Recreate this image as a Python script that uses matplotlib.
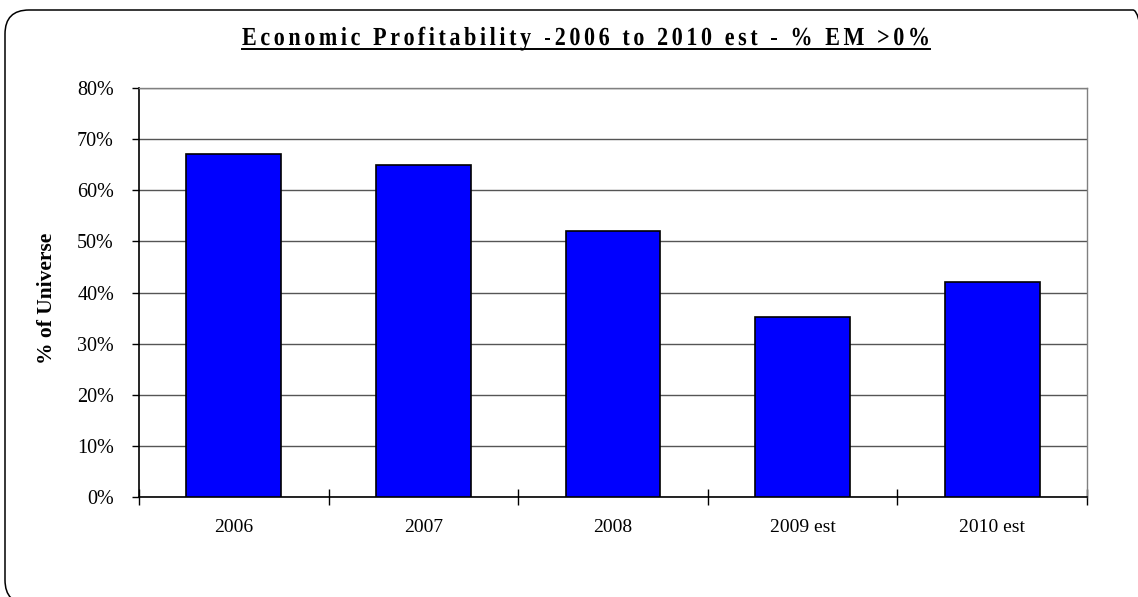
import matplotlib
matplotlib.use('Agg')
import matplotlib.pyplot as plt
from matplotlib.patches import FancyBboxPatch, PathPatch
from matplotlib.lines import Line2D
from matplotlib.transforms import IdentityTransform, Affine2D
from matplotlib.font_manager import FontProperties
from matplotlib.textpath import TextPath, TextToPath
import numpy as np

categories = ['2006', '2007', '2008', '2009 est', '2010 est']
values = [0.670, 0.649, 0.521, 0.353, 0.421]
yticks = [0.0, 0.1, 0.2, 0.3, 0.4, 0.5, 0.6, 0.7, 0.8]
title = 'Economic Profitability -2006 to 2010 est - % EM >0%'
ylabel = '% of Universe'

plt.rcParams['font.family'] = ['Liberation Serif', 'DejaVu Serif']

W, H = 1138, 597
fig = plt.figure(figsize=(W / 100, H / 100), dpi=100)
ax = fig.add_axes([139 / W, (H - 497) / H, (1087 - 139) / W, (497 - 88) / H])

x = np.arange(len(categories))
ax.bar(x, values, width=0.5, color='#0000FF', edgecolor='black', linewidth=1.2, zorder=3)

ax.set_xlim(-0.5, len(categories) - 0.5)
ax.set_ylim(0, 0.8)
ax.set_yticks(yticks)
ax.set_yticklabels(['{:d}%'.format(int(round(v * 100))) for v in yticks], fontsize=14.5)
ax.yaxis.grid(True, color='#555555', linewidth=1, zorder=0)
ax.set_axisbelow(True)

# category boundaries as major ticks, labels on minor ticks
ax.set_xticks(np.arange(-0.5, len(categories), 1.0))
ax.set_xticklabels([])
ax.set_xticks(x, minor=True)
ax.set_xticklabels(categories, minor=True, fontsize=14)
ax.tick_params(axis='x', which='major', direction='inout', length=11, width=1, color='black')
ax.tick_params(axis='x', which='minor', length=0, pad=16)
ax.tick_params(axis='y', direction='out', length=5, width=1, pad=13)

for s in ['left', 'bottom']:
    ax.spines[s].set_color('black')
    ax.spines[s].set_linewidth(1.2)
for s in ['right', 'top']:
    ax.spines[s].set_color('#808080')
    ax.spines[s].set_linewidth(1)

ax.set_ylabel(ylabel, fontsize=15.5, fontweight='bold')
ax.yaxis.set_label_coords(57 / W, 0.5, transform=fig.transFigure)

# rounded frame around the whole chart
frame = FancyBboxPatch((5, H - 604), 1152, 594,
                       boxstyle='round,pad=0,rounding_size=24',
                       transform=IdentityTransform(), fill=False,
                       edgecolor='black', linewidth=1.1, clip_on=False)
fig.patches.append(frame)

# title: narrow, letter-spaced, bold serif, underlined
prop = FontProperties(family='Liberation Serif', weight='bold')
size_px = 26
squeeze = 0.85
t2p = TextToPath()
prop_s = prop.copy()
prop_s.set_size(size_px)

def tw(s):
    w, _, _ = t2p.get_text_width_height_descent(s + 'x', prop_s, ismath=False)
    wx, _, _ = t2p.get_text_width_height_descent('x', prop_s, ismath=False)
    return w - wx

tx0, tx1 = 242, 930
natural = tw(title) * squeeze
track = (tx1 - tx0 - natural) / (len(title) - 1)
base_y = H - 45
for i, ch in enumerate(title):
    if ch == ' ':
        continue
    tp = TextPath((0, 0), ch, size=size_px, prop=prop)
    xpos = tx0 + tw(title[:i]) * squeeze + i * track
    tr = Affine2D().scale(squeeze, 1.0).translate(xpos, base_y)
    fig.patches.append(PathPatch(tr.transform_path(tp), facecolor='black', edgecolor='none',
                                 transform=IdentityTransform()))
fig.lines.append(Line2D([tx0, tx1], [H - 48.5, H - 48.5], color='black', linewidth=1.4,
                        transform=IdentityTransform()))

fig.savefig('out.png', dpi=100)
